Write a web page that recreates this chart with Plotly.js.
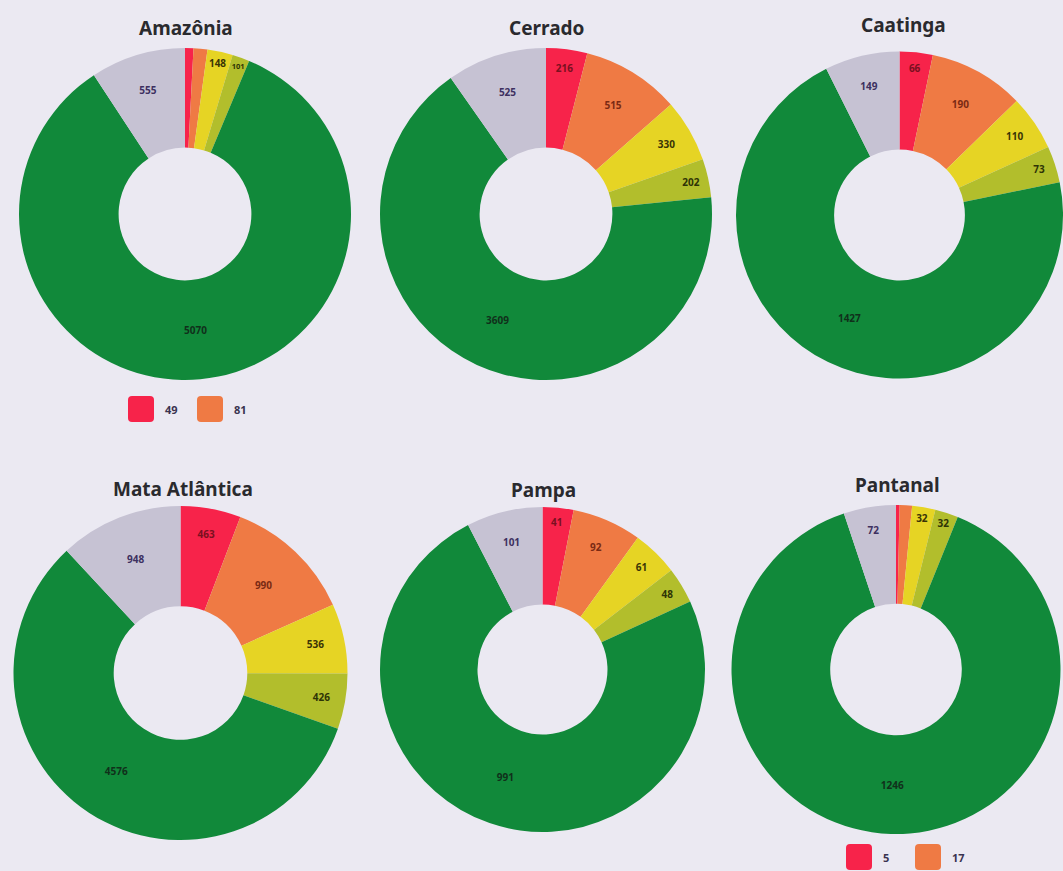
<!DOCTYPE html>
<html>
<head>
<meta charset="utf-8">
<script src="https://cdn.plot.ly/plotly-3.0.1.min.js"></script>
<style>
  html, body { margin: 0; padding: 0; background: #ebe9f2; }
  #chart { width: 1063px; height: 871px; }
</style>
</head>
<body>
<div id="chart"></div>
<script>
// ---- data ----
const biomes = ['Amazônia', 'Cerrado', 'Caatinga', 'Mata Atlântica', 'Pampa', 'Pantanal'];
const classes = ['Classe 1', 'Classe 2', 'Classe 3', 'Classe 4', 'Classe 5', 'Classe 6'];
const amazonia = [49, 81, 148, 101, 5070, 555];
const cerrado = [216, 515, 330, 202, 3609, 525];
const caatinga = [66, 190, 110, 73, 1427, 149];
const mataAtlantica = [463, 990, 536, 426, 4576, 948];
const pampa = [41, 92, 61, 48, 991, 101];
const pantanal = [5, 17, 32, 32, 1246, 72];
// slices whose values are shown in a small legend under the donut instead of inside
const legendSlices = { 'Amazônia': [0, 1], 'Pantanal': [0, 1] };

// ---- styles ----
const sliceColors = ['#f7234a', '#ef7a44', '#e6d424', '#b2be2c', '#11893a', '#c6c2d3'];
const textColors = ['#7a1020', '#7a2a14', '#3a3406', '#2e3406', '#10301a', '#3d3060'];
const seriesList = [amazonia, cerrado, caatinga, mataAtlantica, pampa, pantanal];

const W = 1063, H = 871;
// pixel boxes for each donut: [left, right, top, bottom]
const boxes = [
  [18, 352, 48, 380],
  [380, 712, 48, 380],
  [736, 1072, 46, 384],
  [9, 352, 506, 840],
  [373, 712, 507, 832],
  [729, 1066, 505, 834]
];
const titlePos = [[186, 28], [546, 28], [903, 25], [183, 489], [543, 490], [897, 485]];

const fontFam = '"Noto Sans", "Open Sans", sans-serif';
const traces = [];
const annotations = [];
const shapes = [];

biomes.forEach((name, i) => {
  const vals = seriesList[i];
  const hide = legendSlices[name] || [];
  const txt = vals.map((v, k) => hide.includes(k) ? '' : String(v));
  const b = boxes[i];
  traces.push({
    type: 'pie',
    hole: 0.4,
    values: vals,
    labels: classes,
    text: txt,
    textinfo: 'text',
    textposition: 'inside',
    insidetextorientation: 'horizontal',
    sort: false,
    direction: 'clockwise',
    rotation: 0,
    marker: { colors: sliceColors, line: { width: 0 } },
    insidetextfont: { family: fontFam, size: 10, color: textColors, weight: 700 },
    showlegend: false,
    hoverinfo: 'label+value',
    domain: { x: [b[0] / W, Math.min(b[1] / W, 1)], y: [1 - b[3] / H, 1 - b[2] / H] }
  });
  const t = titlePos[i];
  annotations.push({
    text: '<b>' + name + '</b>', xref: 'paper', yref: 'paper',
    x: t[0] / W, y: 1 - t[1] / H, xanchor: 'center', yanchor: 'middle',
    showarrow: false, font: { family: fontFam, size: 19, color: '#2a2a2e' }
  });
});

// small legends for slices without inside labels
const legendPos = { 'Amazônia': [128, 409], 'Pantanal': [846, 857] };
Object.keys(legendSlices).forEach(name => {
  const vals = seriesList[biomes.indexOf(name)];
  const [x0, yc] = legendPos[name];
  legendSlices[name].forEach((k, j) => {
    const lx = x0 + j * 69;
    const s = 26, r = 4;
    const L = lx, R = lx + s, T = yc - s / 2, B = yc + s / 2;
    shapes.push({
      type: 'path', xref: 'paper', yref: 'paper', fillcolor: sliceColors[k], line: { width: 0 },
      path: `M ${(L + r) / W} ${1 - T / H} L ${(R - r) / W} ${1 - T / H} Q ${R / W} ${1 - T / H} ${R / W} ${1 - (T + r) / H} ` +
            `L ${R / W} ${1 - (B - r) / H} Q ${R / W} ${1 - B / H} ${(R - r) / W} ${1 - B / H} ` +
            `L ${(L + r) / W} ${1 - B / H} Q ${L / W} ${1 - B / H} ${L / W} ${1 - (B - r) / H} ` +
            `L ${L / W} ${1 - (T + r) / H} Q ${L / W} ${1 - T / H} ${(L + r) / W} ${1 - T / H} Z`
    });
    annotations.push({
      text: '<b>' + vals[k] + '</b>', xref: 'paper', yref: 'paper',
      x: (R + 9) / W, y: 1 - yc / H, xanchor: 'left', yanchor: 'middle',
      showarrow: false, font: { family: fontFam, size: 11, color: '#3a3350' }
    });
  });
});

Plotly.newPlot('chart', traces, {
  width: W, height: H,
  margin: { l: 0, r: 0, t: 0, b: 0 },
  paper_bgcolor: '#ebe9f2',
  plot_bgcolor: '#ebe9f2',
  showlegend: false,
  annotations: annotations,
  shapes: shapes
}, { displayModeBar: false, staticPlot: true });
</script>
</body>
</html>
